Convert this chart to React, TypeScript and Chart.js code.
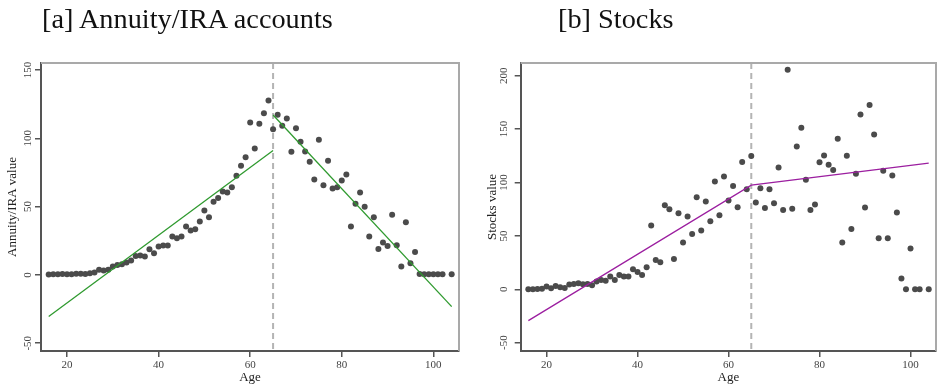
import React, { useEffect, useRef } from "react";
import { Chart, registerables } from "chart.js";

Chart.register(...registerables);

// Age at which the piecewise fit breaks (retirement).
const RETIREMENT_AGE = 65;

// Panel [a]: annuity / IRA account values by age
const ANNUITY_AGES = [
  16, 17, 18, 19, 20, 21, 22, 23, 24, 25, 26, 27, 28, 29, 30, 31, 32, 33, 34, 35,
  36, 37, 38, 39, 40, 41, 42, 43, 44, 45, 46, 47, 48, 49, 50, 51, 52, 53, 54, 55,
  56, 57, 58, 59, 60, 61, 62, 63, 64, 65, 66, 67, 68, 69, 70, 71, 72, 73, 74, 75,
  76, 77, 78, 79, 80, 81, 82, 83, 84, 85, 86, 87, 88, 89, 90, 91, 92, 93, 94, 95,
  96, 97, 98, 99, 100, 101, 102, 104,
];
const ANNUITY_VALUES = [
  0.3, 0.5, 0.4, 0.6, 0.5, 0.4, 0.8, 0.9, 0.7, 1.2, 1.7, 3.7, 3.2, 3.7, 6.1, 7.3, 7.8, 9.0, 10.5, 13.9,
  14.2, 13.4, 18.8, 15.9, 20.8, 21.5, 21.5, 28.1, 26.9, 28.1, 35.4, 32.5, 33.5, 39.1, 47.1, 42.2, 53.5, 56.2, 61.0, 60.3,
  64.2, 72.5, 79.9, 86.2, 111.6, 92.5, 110.6, 118.4, 127.7, 106.7, 117.3, 109.2, 114.5, 90.1, 107.4, 97.4, 90.3, 82.8, 69.8, 98.9,
  65.7, 83.5, 63.2, 64.2, 69.1, 73.5, 35.4, 52.0, 60.3, 49.8, 28.1, 42.2, 19.0, 23.7, 21.2, 44.0, 21.7, 6.1, 38.6, 8.5,
  16.8, 0.7, 0.5, 0.5, 0.5, 0.5, 0.5, 0.4,
];
// Linear fits before and after retirement (endpoint ages and fitted values)
const ANNUITY_FIT_PRE_AGES = [16, 65];
const ANNUITY_FIT_PRE_VALUES = [-30.5, 91.0];
const ANNUITY_FIT_POST_AGES = [65, 104];
const ANNUITY_FIT_POST_VALUES = [117.0, -23.2];
const ANNUITY_Y_TICKS = [-50, 0, 50, 100, 150];

// Panel [b]: stock holdings by age
const STOCK_AGES = [
  16, 17, 18, 19, 20, 21, 22, 23, 24, 25, 26, 27, 28, 29, 30, 31, 32, 33, 34, 35,
  36, 37, 38, 39, 40, 41, 42, 43, 44, 45, 46, 47, 48, 49, 50, 51, 52, 53, 54, 55,
  56, 57, 58, 59, 60, 61, 62, 63, 64, 65, 66, 67, 68, 69, 70, 71, 72, 73, 74, 75,
  76, 77, 78, 79, 80, 81, 82, 83, 84, 85, 86, 87, 88, 89, 90, 91, 92, 93, 94, 95,
  96, 97, 98, 99, 100, 101, 102, 104,
];
const STOCK_VALUES = [
  0, 0, 0.3, 0.6, 2.5, 0.9, 3.1, 1.9, 1.2, 4.4, 5.0, 5.6, 4.7, 5.0, 3.8, 7.2, 8.8, 8.1, 11.9, 8.8,
  13.4, 11.9, 11.9, 18.7, 16.2, 13.4, 20.6, 59.7, 27.5, 25.3, 78.7, 75.0, 28.4, 71.2, 43.7, 68.1, 51.8, 86.2, 55.0, 82.1,
  63.7, 100.9, 69.4, 105.6, 83.1, 96.8, 76.9, 119.3, 93.7, 124.7, 81.2, 94.7, 76.2, 93.7, 80.6, 114.0, 74.3, 205.6, 75.3, 133.7,
  151.2, 102.5, 74.3, 79.3, 119.0, 125.3, 116.5, 111.8, 140.9, 43.7, 125.0, 56.5, 108.1, 163.7, 76.5, 172.5, 145.0, 47.8, 110.9, 47.8,
  106.5, 71.8, 10.0, 0, 38.1, 0, 0, 0,
];
const STOCK_FIT_AGES = [16, 65, 104];
const STOCK_FIT_VALUES = [-29.4, 97.5, 118.1];
const STOCK_Y_TICKS = [-50, 0, 50, 100, 150, 200];

const AGE_TICKS = [20, 40, 60, 80, 100];

const SERIF = '"Liberation Serif", "Times New Roman", serif';
const AXIS_DARK = "#555555";
const MARKER = "#4b4b4b";

const toPoints = (xs: number[], ys: number[]) => xs.map((x, i) => ({ x, y: ys[i] }));

// Retirement marker plus the light frame on the top and right of the plot region.
const framePlugin = {
  id: "panelFrame",
  beforeDatasetsDraw(chart: any) {
    const { ctx, chartArea, scales } = chart;
    const { left, right, top, bottom } = chartArea;
    const px = scales.x.getPixelForValue(RETIREMENT_AGE);
    ctx.save();
    ctx.strokeStyle = "#b4b4b4";
    ctx.lineWidth = 2;
    ctx.setLineDash([6, 4]);
    ctx.beginPath();
    ctx.moveTo(px, top);
    ctx.lineTo(px, bottom);
    ctx.stroke();
    ctx.setLineDash([]);
    ctx.strokeStyle = "#a9a9a9";
    ctx.beginPath();
    ctx.moveTo(left, top);
    ctx.lineTo(right, top);
    ctx.lineTo(right, bottom);
    ctx.stroke();
    ctx.restore();
  },
};

type PanelSpec = {
  yTitle: string;
  yMin: number;
  yMax: number;
  yTicks: number[];
  yAxisWidth: number;
  yLabelPad: number;
  yTitlePad: number;
  rightPad: number;
  fits: { ages: number[]; values: number[] }[];
  fitColor: string;
  ages: number[];
  values: number[];
};

function buildConfig(p: PanelSpec): any {
  const fitSets = p.fits.map((f) => ({
    type: "line",
    data: toPoints(f.ages, f.values),
    borderColor: p.fitColor,
    borderWidth: 1.3,
    pointRadius: 0,
    showLine: true,
    fill: false,
  }));
  const tickFont = { family: SERIF, size: 11 };
  return {
    type: "scatter",
    data: {
      datasets: [
        ...fitSets,
        {
          type: "scatter",
          data: toPoints(p.ages, p.values),
          pointStyle: "circle",
          pointRadius: 3,
          pointBackgroundColor: MARKER,
          pointBorderWidth: 0,
        },
      ],
    },
    options: {
      animation: false,
      responsive: false,
      layout: { padding: { top: 63, right: p.rightPad, left: 0, bottom: 0 } },
      plugins: { legend: { display: false }, tooltip: { enabled: false } },
      scales: {
        x: {
          type: "linear",
          min: 14.32,
          max: 105.6,
          afterFit: (s: any) => {
            s.height = 36;
          },
          afterBuildTicks: (s: any) => {
            s.ticks = AGE_TICKS.map((v) => ({ value: v }));
          },
          border: { display: true, color: AXIS_DARK, width: 2 },
          grid: {
            display: true,
            drawOnChartArea: false,
            drawTicks: true,
            tickLength: 6,
            color: AXIS_DARK,
            lineWidth: 1.5,
          },
          ticks: { maxRotation: 0, padding: 2, font: tickFont, color: "#444" },
          title: {
            display: true,
            text: "Age",
            font: { family: SERIF, size: 13 },
            color: "#222",
            padding: { top: 0, bottom: 1.5 },
          },
        },
        y: {
          type: "linear",
          min: p.yMin,
          max: p.yMax,
          afterFit: (s: any) => {
            s.width = p.yAxisWidth;
          },
          afterBuildTicks: (s: any) => {
            s.ticks = p.yTicks.map((v) => ({ value: v }));
          },
          border: { display: true, color: AXIS_DARK, width: 2 },
          grid: {
            display: true,
            drawOnChartArea: false,
            drawTicks: true,
            tickLength: 6,
            color: AXIS_DARK,
            lineWidth: 1.5,
          },
          ticks: {
            minRotation: 90,
            maxRotation: 90,
            crossAlign: "center",
            padding: p.yLabelPad,
            font: tickFont,
            color: "#444",
          },
          title: {
            display: true,
            text: p.yTitle,
            font: { family: SERIF, size: 13 },
            color: "#222",
            padding: { top: p.yTitlePad, bottom: 0 },
          },
        },
      },
    },
    plugins: [framePlugin],
  };
}

const PANEL_A: PanelSpec = {
  yTitle: "Annuity/IRA value",
  yMin: -55.7,
  yMax: 155.1,
  yTicks: ANNUITY_Y_TICKS,
  yAxisWidth: 41,
  yLabelPad: -1.5,
  yTitlePad: 4.7,
  rightPad: 11,
  fits: [
    { ages: ANNUITY_FIT_PRE_AGES, values: ANNUITY_FIT_PRE_VALUES },
    { ages: ANNUITY_FIT_POST_AGES, values: ANNUITY_FIT_POST_VALUES },
  ],
  fitColor: "#2f9a2f",
  ages: ANNUITY_AGES,
  values: ANNUITY_VALUES,
};

const PANEL_B: PanelSpec = {
  yTitle: "Stocks value",
  yMin: -57.8,
  yMax: 211.9,
  yTicks: STOCK_Y_TICKS,
  yAxisWidth: 50.7,
  yLabelPad: 2.1,
  yTitlePad: 14.7,
  rightPad: 1.3,
  fits: [{ ages: STOCK_FIT_AGES, values: STOCK_FIT_VALUES }],
  fitColor: "#9c1fa0",
  ages: STOCK_AGES,
  values: STOCK_VALUES,
};

function Panel({ spec, left, title, titleLeft }: { spec: PanelSpec; left: number; title: string; titleLeft: number }) {
  const ref = useRef<HTMLCanvasElement | null>(null);
  useEffect(() => {
    if (!ref.current) return;
    const chart = new Chart(ref.current, buildConfig(spec));
    return () => chart.destroy();
  }, [spec]);
  return (
    <>
      <canvas
        ref={ref}
        width={470}
        height={387}
        style={{ position: "absolute", left, top: 0, width: 470, height: 387 }}
      />
      <div
        style={{
          position: "absolute",
          left: titleLeft,
          top: 5,
          fontFamily: SERIF,
          fontSize: 28.3,
          lineHeight: "28px",
          color: "#111",
          whiteSpace: "nowrap",
        }}
      >
        {title}
      </div>
    </>
  );
}

export default function App() {
  return (
    <div
      style={{
        position: "absolute",
        left: 0,
        top: 0,
        width: 940,
        height: 387,
        background: "#ffffff",
        overflow: "hidden",
      }}
    >
      <Panel spec={PANEL_A} left={0} title="[a] Annuity/IRA accounts" titleLeft={42} />
      <Panel spec={PANEL_B} left={470} title="[b] Stocks" titleLeft={558} />
    </div>
  );
}
